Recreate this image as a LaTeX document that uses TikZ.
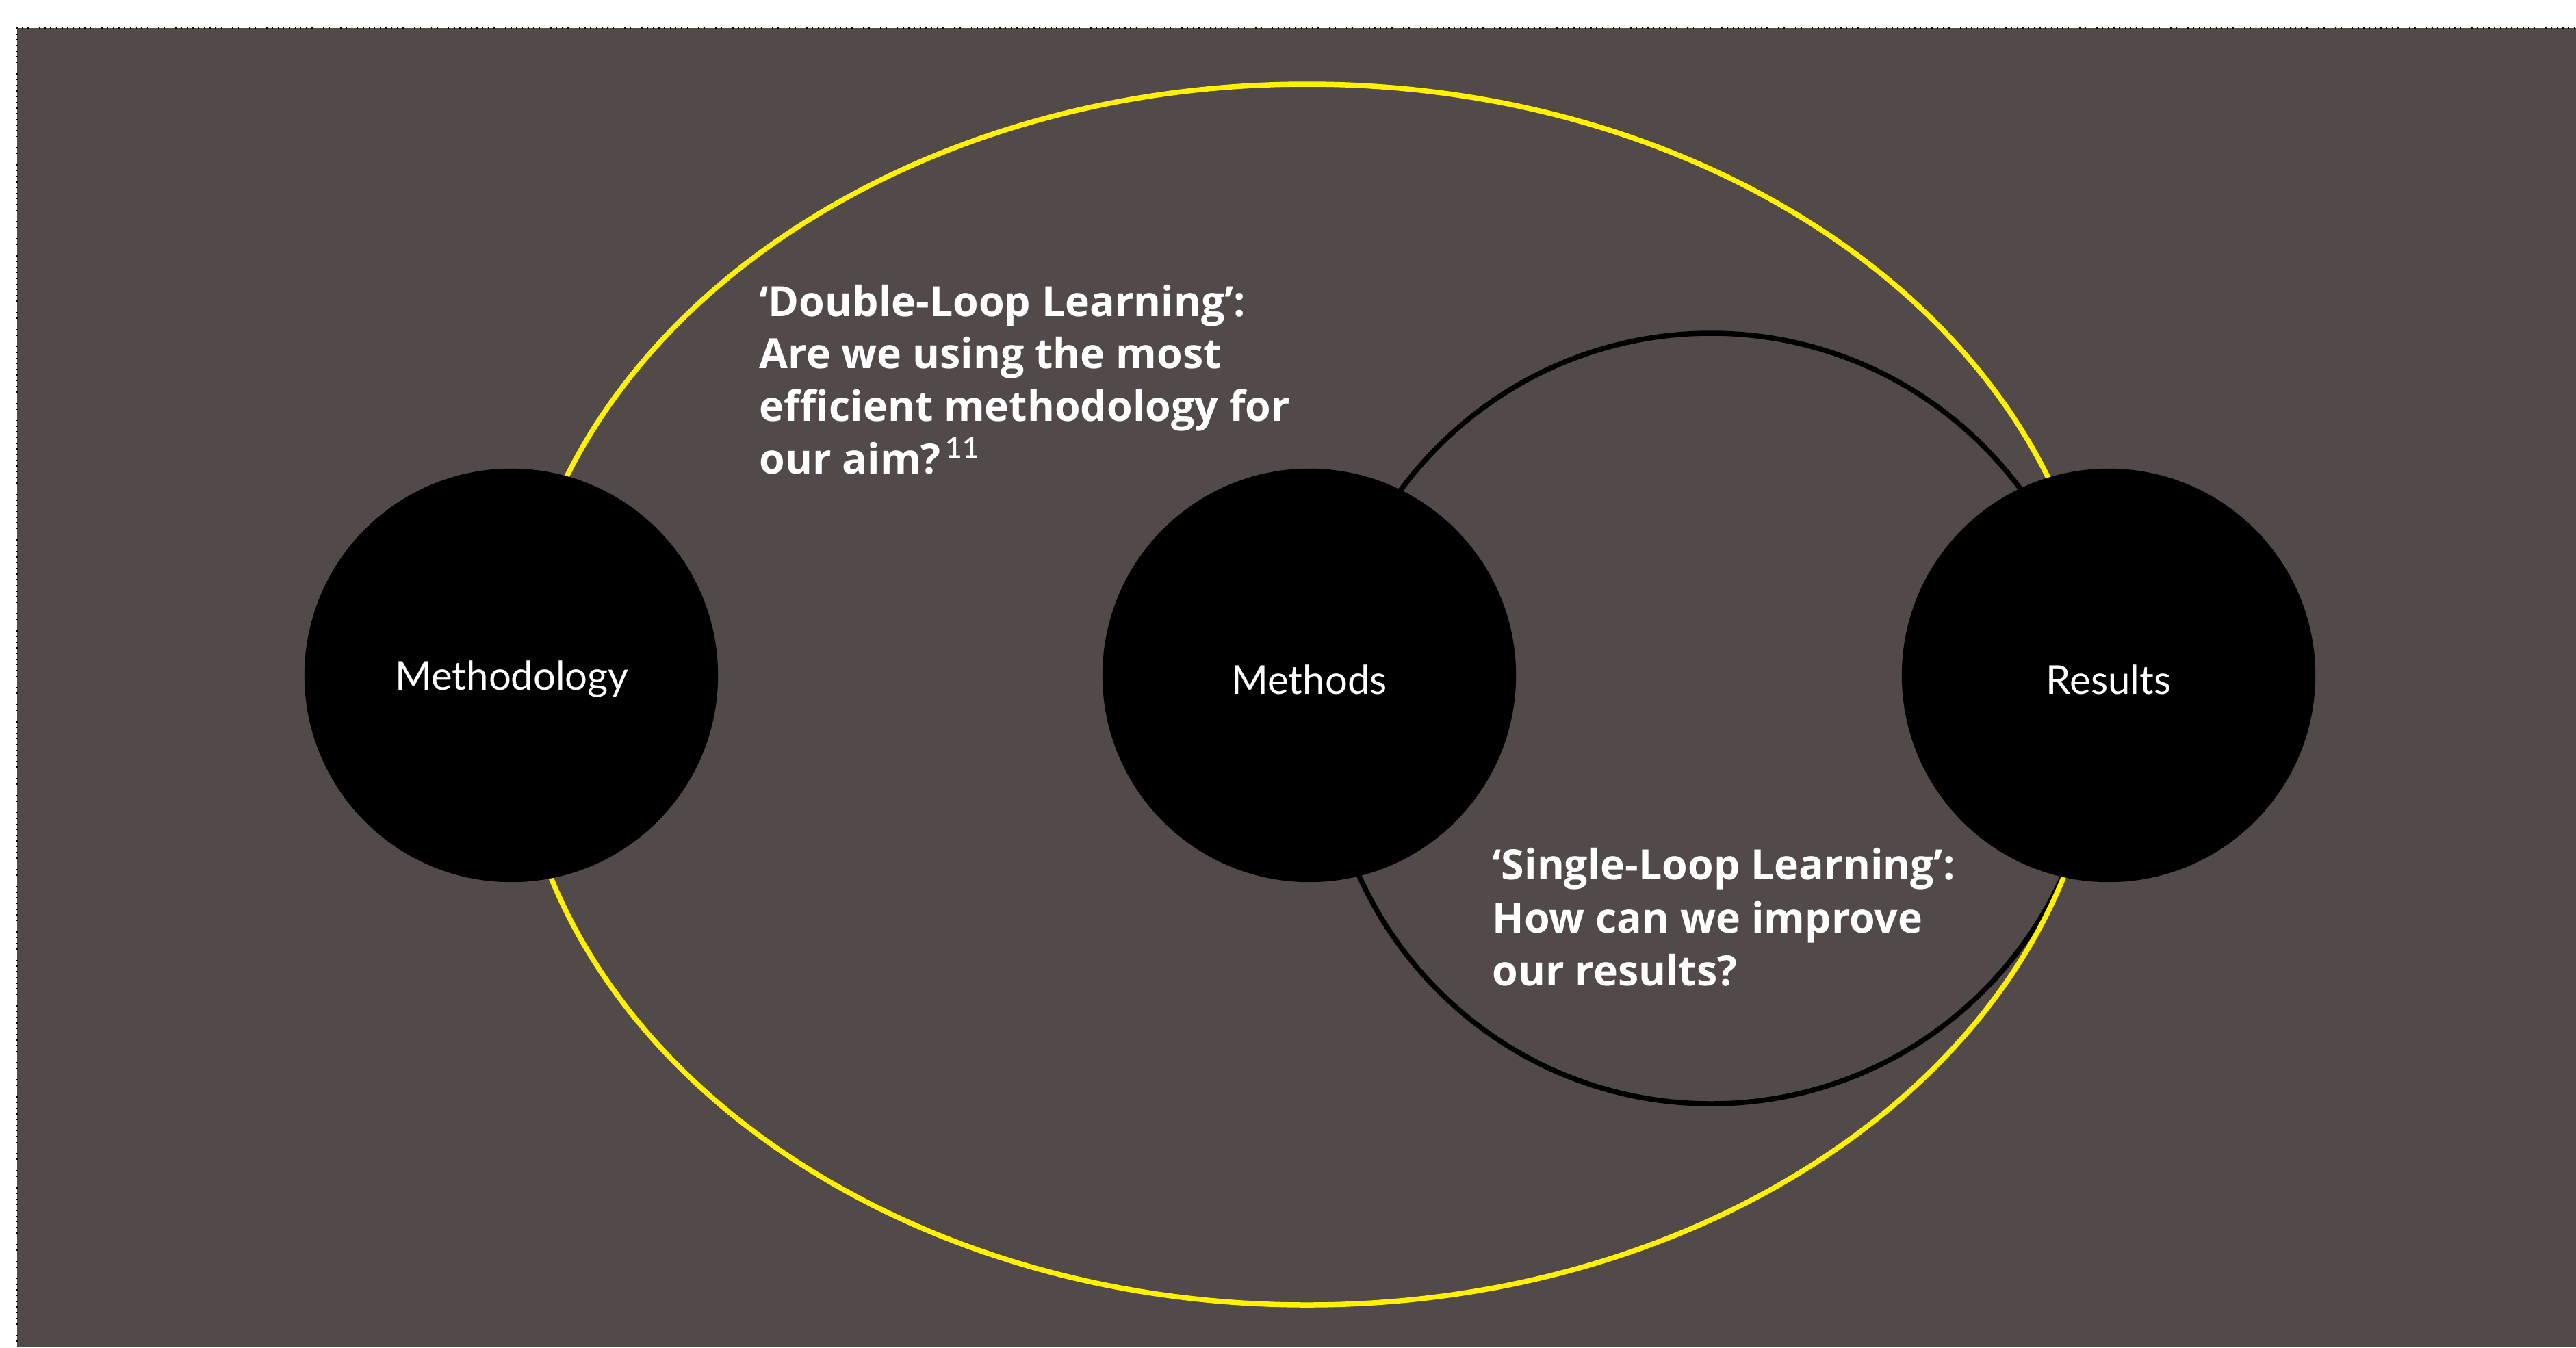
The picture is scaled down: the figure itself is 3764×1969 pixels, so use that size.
\documentclass[tikz,border=0pt]{standalone}
\usepackage{fontspec}
\setmainfont{Lato}
\newfontfamily\capfont{Open Sans}
\definecolor{bgbrown}{RGB}{81,74,72}
\definecolor{loopyellow}{RGB}{255,241,0}
\tikzset{
  bigdot/.style={circle, fill=black, draw=none, inner sep=0pt, minimum size=6.04cm},
  dotlabel/.style={text=white, inner sep=0pt, anchor=base, font=\fontsize{16.5}{20}\selectfont},
  captionline/.style={text=white, inner sep=0pt, anchor=base west, font=\capfont\bfseries\fontsize{17.3}{21}\selectfont},
}
\begin{document}
\begin{tikzpicture}[x=0.01cm, y=-0.01cm]
\useasboundingbox (0,0) rectangle (3764,1969);
\fill[bgbrown] (25,41) rectangle (3764,1969);
\draw[black, line width=0.15mm, dash pattern=on 0.15mm off 0.68mm] (25,1969) -- (25,41) -- (3764,41);
% single loop (black) and double loop (yellow)
\draw[black, line width=0.75mm] (2500,1050) circle [radius=563];
\draw[loopyellow, line width=0.75mm] (1910,1015) ellipse [x radius=1158, y radius=892];
% nodes
\node[bigdot] (methodology) at (747,987) {};
\node[bigdot] (methods) at (1913,987) {};
\node[bigdot] (results) at (3081,987) {};
\node[dotlabel] (tmethodology) at (748,1008) {Methodology};
\node[dotlabel] (tmethods) at (1913,1014) {Methods};
\node[dotlabel] (tresults) at (3081,1014) {Results};
% captions
\node[captionline] (dl1) at (1109,462) {‘Double-Loop Learning’:};
\node[captionline] (dl2) at (1109,538) {Are we using the most};
\node[captionline] (dl3) at (1109,615) {efficient methodology for};
\node[captionline] (dl4) at (1109,692) {our aim?\textsuperscript{\,\fontspec{Lato Light}11}};
\node[captionline] (sl1) at (2180,1285) {‘Single-Loop Learning’:};
\node[captionline] (sl2) at (2180,1363) {How can we improve};
\node[captionline] (sl3) at (2180,1440) {our results?};
\end{tikzpicture}
\end{document}
